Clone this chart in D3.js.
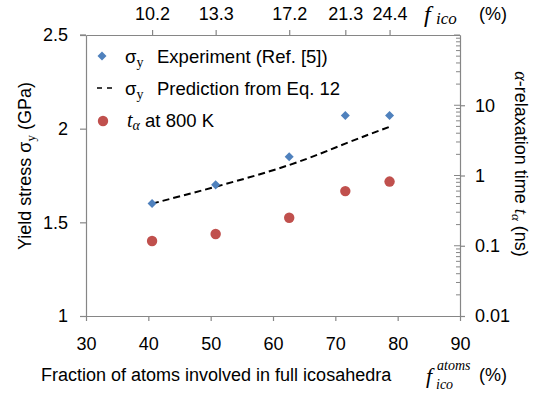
<!DOCTYPE html>
<html>
<head>
<meta charset="utf-8">
<script src="https://cdn.jsdelivr.net/npm/d3@7"></script>
<style>
  html, body { margin: 0; padding: 0; background: #fff; }
  svg { display: block; }
  text { font-family: "Liberation Sans", Arial, sans-serif; fill: #000; }
</style>
</head>
<body>
<svg id="chart" width="540" height="398"></svg>
<script>
// ---- data ----
const fAtoms = [40.6, 50.8, 62.6, 71.6, 78.7];          // x: fraction of atoms in full icosahedra (%)
const fIcoLabels = ["10.2", "13.3", "17.2", "21.3", "24.4"]; // top axis labels f_ico (%)
const sigmaExp = [1.60, 1.70, 1.85, 2.07, 2.07];        // experiment (GPa)
const sigmaPred = [1.60, 1.69, 1.806, 1.92, 2.01];      // prediction Eq. 12 (GPa)
const tAlpha = [0.117, 0.147, 0.25, 0.60, 0.82];        // alpha-relaxation time (ns)
const xTicks = [30, 40, 50, 60, 70, 80, 90];
const yLeftTicks = [1, 1.5, 2, 2.5];
const yRightTicks = [0.01, 0.1, 1, 10];

const svg = d3.select("#chart");
const L = 86, R = 460, T = 35, B = 316;
const axisColor = "#868686";
const blue = "#4F81BD", red = "#C0504D";

const x = d3.scaleLinear().domain([30, 90]).range([L, R]);
const yL = d3.scaleLinear().domain([1, 2.5]).range([B, T]);
const yR = d3.scaleLog().domain([0.01, 100]).range([B, T]);

function styleAxis(g) {
  g.selectAll("path.domain").attr("stroke", axisColor).attr("stroke-width", 1.2);
  g.selectAll(".tick line").attr("stroke", axisColor).attr("stroke-width", 1.2);
  g.selectAll(".tick text").attr("fill", "#000")
    .style("font-family", '"Liberation Sans", Arial, sans-serif').style("font-size", "18px");
}

// bottom axis
svg.append("g").attr("transform", `translate(0,${B})`)
  .call(d3.axisBottom(x).tickValues(xTicks).tickFormat(d => d).tickSize(5).tickSizeOuter(0).tickPadding(16))
  .call(styleAxis);

// left axis
svg.append("g").attr("transform", `translate(${L},0)`)
  .call(d3.axisLeft(yL).tickValues(yLeftTicks).tickFormat(d => String(d)).tickSize(6).tickSizeOuter(0).tickPadding(12))
  .call(styleAxis);

// right axis (log)
const gR = svg.append("g").attr("transform", `translate(${R},0)`)
  .call(d3.axisRight(yR).tickValues(yRightTicks).tickFormat(d => String(d)).tickSize(5).tickSizeOuter(0).tickPadding(10))
  .call(styleAxis);
// minor ticks inside
const minor = [];
[0.01, 0.1, 1, 10].forEach(dec => { for (let k = 2; k <= 9; k++) minor.push(dec * k); });
gR.selectAll("line.minor").data(minor).join("line").attr("class", "minor")
  .attr("x1", 0).attr("x2", -4)
  .attr("y1", d => yR(d)).attr("y2", d => yR(d))
  .attr("stroke", axisColor).attr("stroke-width", 1);
gR.selectAll("line.majorIn").data([0.1, 1, 10, 100]).join("line").attr("class", "majorIn")
  .attr("x1", 0).attr("x2", -6)
  .attr("y1", d => yR(d)).attr("y2", d => yR(d))
  .attr("stroke", axisColor).attr("stroke-width", 1);

// top axis (ticks at data positions)
svg.append("g").attr("transform", `translate(0,${T})`)
  .call(d3.axisTop(x).tickValues(fAtoms).tickFormat((d, i) => fIcoLabels[i]).tickSize(5).tickSizeOuter(0).tickPadding(10))
  .call(styleAxis);
// left 2.5 tick extends top line
svg.append("line").attr("x1", L - 6).attr("x2", L).attr("y1", T).attr("y2", T)
  .attr("stroke", axisColor).attr("stroke-width", 1.2);

// prediction dashed line
const line = d3.line().x((d, i) => x(fAtoms[i])).y(d => yL(d)).curve(d3.curveNatural);
svg.append("path").datum(sigmaPred).attr("d", line)
  .attr("fill", "none").attr("stroke", "#000").attr("stroke-width", 2).attr("stroke-dasharray", "7,4");

// experiment diamonds
const diamond = d3.symbol().type(d3.symbolDiamond2).size(52);
svg.selectAll("path.exp").data(sigmaExp).join("path").attr("class", "exp")
  .attr("d", diamond)
  .attr("transform", (d, i) => `translate(${x(fAtoms[i])},${yL(d)})`)
  .attr("fill", blue);

// t_alpha circles
svg.selectAll("circle.ta").data(tAlpha).join("circle").attr("class", "ta")
  .attr("cx", (d, i) => x(fAtoms[i])).attr("cy", d => yR(d)).attr("r", 5.2)
  .attr("fill", red);

// legend
const lg = svg.append("g");
lg.append("path").attr("d", diamond).attr("transform", "translate(102,56)").attr("fill", blue);
function sigmaLabel(xPos, yPos, rest) {
  const t = lg.append("text").attr("x", xPos).attr("y", yPos).style("font-size", "18.5px");
  t.append("tspan").text("σ");
  t.append("tspan").attr("dy", 4).style("font-family", '"Liberation Serif", serif').style("font-size", "14px").text("y");
  t.append("tspan").attr("x", xPos + 32).attr("dy", -4).text(rest);
}
sigmaLabel(125, 63, "Experiment (Ref. [5])");
lg.append("line").attr("x1", 97).attr("x2", 113).attr("y1", 88).attr("y2", 88)
  .attr("stroke", "#000").attr("stroke-width", 1.5).attr("stroke-dasharray", "5,5");
sigmaLabel(125, 95, "Prediction from Eq. 12");
lg.append("circle").attr("cx", 103).attr("cy", 121).attr("r", 5.2).attr("fill", red);
{
  const t = lg.append("text").attr("x", 127).attr("y", 127).style("font-size", "18.5px");
  t.append("tspan").style("font-family", '"Liberation Serif", serif').style("font-style", "italic").style("font-size", "20px").text("t");
  t.append("tspan").attr("dy", 3).style("font-family", '"Liberation Serif", serif').style("font-style", "italic").style("font-size", "14px").text("α");
  t.append("tspan").attr("dy", -3).text(" at 800 K");
}

// left axis title
{
  const t = svg.append("text").attr("transform", "translate(31,166) rotate(-90)")
    .attr("text-anchor", "middle").style("font-size", "18px");
  t.append("tspan").text("Yield stress σ");
  t.append("tspan").attr("dy", 4).style("font-family", '"Liberation Serif", serif').style("font-size", "13px").text("y");
  t.append("tspan").attr("dy", -4).text("  (GPa)");
}

// right axis title
{
  const t = svg.append("text").attr("transform", "translate(515,164) rotate(90)")
    .attr("text-anchor", "middle").style("font-size", "18px");
  t.append("tspan").style("font-family", '"Liberation Serif", serif').style("font-style", "italic").text("α");
  t.append("tspan").text("-relaxation time ");
  t.append("tspan").style("font-family", '"Liberation Serif", serif').style("font-style", "italic").style("font-size", "19px").text("t");
  t.append("tspan").attr("dy", 3).style("font-family", '"Liberation Serif", serif').style("font-style", "italic").style("font-size", "13px").text("α");
  t.append("tspan").attr("dy", -3).text("  (ns)");
}

// bottom axis title
svg.append("text").attr("x", 41).attr("y", 381).style("font-size", "18px")
  .text("Fraction of atoms involved in full icosahedra");
svg.append("text").attr("x", 426).attr("y", 383)
  .style("font-family", '"Liberation Serif", serif').style("font-style", "italic").style("font-size", "22px").text("f");
svg.append("text").attr("x", 437).attr("y", 370)
  .style("font-family", '"Liberation Serif", serif').style("font-style", "italic").style("font-size", "14px").text("atoms");
svg.append("text").attr("x", 436).attr("y", 389)
  .style("font-family", '"Liberation Serif", serif').style("font-style", "italic").style("font-size", "14px").text("ico");
svg.append("text").attr("x", 479).attr("y", 381).style("font-size", "18px").text("(%)");

// top axis title
svg.append("text").attr("x", 424).attr("y", 22)
  .style("font-family", '"Liberation Serif", serif').style("font-style", "italic").style("font-size", "24px").text("f");
svg.append("text").attr("x", 436).attr("y", 24)
  .style("font-family", '"Liberation Serif", serif').style("font-style", "italic").style("font-size", "17px").text("ico");
svg.append("text").attr("x", 479).attr("y", 20).style("font-size", "18px").text("(%)");
</script>
</body>
</html>
